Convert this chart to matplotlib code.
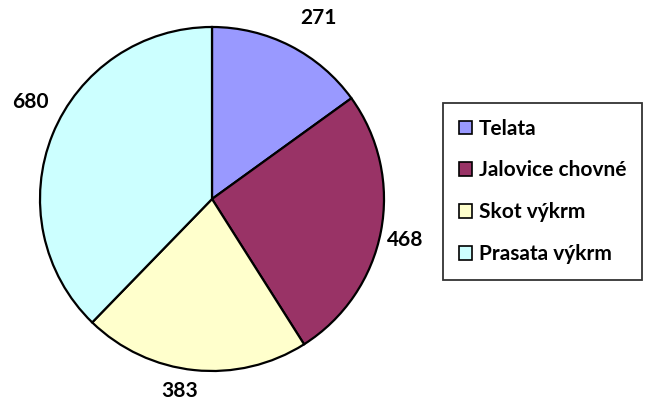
import numpy as np
import matplotlib
matplotlib.use("Agg")
import matplotlib.pyplot as plt

categories = ["Telata", "Jalovice chovné", "Skot výkrm", "Prasata výkrm"]
values = [271, 468, 383, 680]
colors = ["#9999FF", "#993366", "#FFFFCC", "#CCFFFF"]

plt.rcParams["font.family"] = ["Lato", "DejaVu Sans"]

W, H = 647, 405
fig = plt.figure(figsize=(W / 100, H / 100), dpi=100)
cx, cy, r = 212, 199, 172
ax = fig.add_axes([(cx - r) / W, (H - cy - r) / H, 2 * r / W, 2 * r / H])

wedges, _ = ax.pie(values, colors=colors, startangle=90, counterclock=False,
                   wedgeprops=dict(edgecolor="black", linewidth=1.6))
# value labels: (angle shift in degrees, distance) tuned by eye
label_adj = [(-3.5, 1.22), (-1.2, 1.15), (-3.6, 1.13), (-6.0, 1.2)]
for w, v, (da, d) in zip(wedges, values, label_adj):
    a = np.deg2rad(0.5 * (w.theta1 + w.theta2) + da)
    ax.text(d * np.cos(a), d * np.sin(a), str(v), ha="center", va="center",
            fontsize=15, fontweight="bold")
ax.set_xlim(-1, 1)
ax.set_ylim(-1, 1)
ax.set_aspect("equal")

leg = fig.legend(wedges, categories, loc="upper left",
                 bbox_to_anchor=(443 / W, 1 - 103 / H),
                 prop=dict(size=15, weight="bold"),
                 frameon=True, fancybox=False, edgecolor="black",
                 handlelength=0.62, handleheight=0.62, handletextpad=0.35,
                 labelspacing=1.05, borderpad=0.75, borderaxespad=0)
leg.get_frame().set_linewidth(1.3)
for h in leg.legend_handles:
    h.set_linewidth(1.2)

fig.savefig("out.png", dpi=100)
